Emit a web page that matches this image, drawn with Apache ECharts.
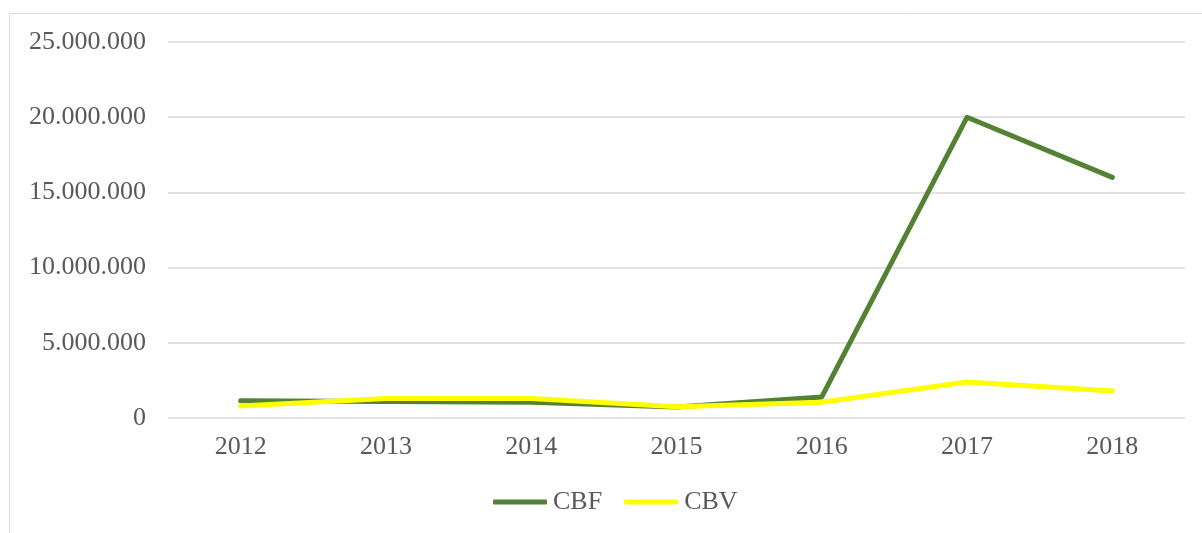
<!DOCTYPE html>
<html>
<head>
<meta charset="utf-8">
<script src="https://cdn.jsdelivr.net/npm/echarts@6/dist/echarts.min.js"></script>
<style>
  html, body { margin: 0; padding: 0; background: #fff; }
  #main { width: 1202px; height: 533px; }
</style>
</head>
<body>
<div id="main"></div>
<script>
  // data
  var years = ['2012', '2013', '2014', '2015', '2016', '2017', '2018']
  var cbf = [1150000, 1100000, 1050000, 730000, 1400000, 20000000, 16000000]
  var cbv = [800000, 1300000, 1300000, 750000, 1050000, 2400000, 1800000]

  var font = '"Liberation Serif", "Times New Roman", serif'
  var myChart = echarts.init(document.getElementById('main'))

  myChart.setOption({
    animation: false,
    graphic: [{
      type: 'rect',
      shape: { x: 9.5, y: 13.5, width: 1250, height: 600 },
      style: { fill: 'none', stroke: '#d9d9d9', lineWidth: 1 },
      silent: true
    }],
    grid: { left: 168, right: 17, top: 42, bottom: 115 },
    legend: {
      top: 489,
      left: 493,
      padding: 0,
      itemWidth: 54,
      itemHeight: 5,
      itemGap: 22,
      icon: 'roundRect',
      textStyle: { fontFamily: font, fontSize: 26, color: '#595959', padding: [0, 0, 0, 1] },
      data: ['CBF', 'CBV']
    },
    xAxis: {
      type: 'category',
      data: years,
      axisLine: { show: false },
      axisTick: { show: false },
      axisLabel: { fontFamily: font, fontSize: 26, color: '#595959', margin: 16 }
    },
    yAxis: {
      type: 'value',
      min: 0,
      max: 25000000,
      interval: 5000000,
      axisLine: { show: false },
      axisTick: { show: false },
      splitLine: { lineStyle: { color: '#d9d9d9', width: 1.5 } },
      axisLabel: {
        fontFamily: font, fontSize: 26, color: '#595959', margin: 22,
        formatter: function (v) {
          return String(v).replace(/\B(?=(\d{3})+(?!\d))/g, '.')
        }
      }
    },
    series: [{
      name: 'CBF',
      type: 'line',
      data: cbf,
      showSymbol: false,
      symbol: 'none',
      itemStyle: { color: '#548235' },
      lineStyle: { color: '#548235', width: 5, cap: 'round', join: 'round' }
    }, {
      name: 'CBV',
      type: 'line',
      data: cbv,
      showSymbol: false,
      symbol: 'none',
      itemStyle: { color: '#ffff00' },
      lineStyle: { color: '#ffff00', width: 5, cap: 'round', join: 'round' }
    }]
  })
</script>
</body>
</html>
